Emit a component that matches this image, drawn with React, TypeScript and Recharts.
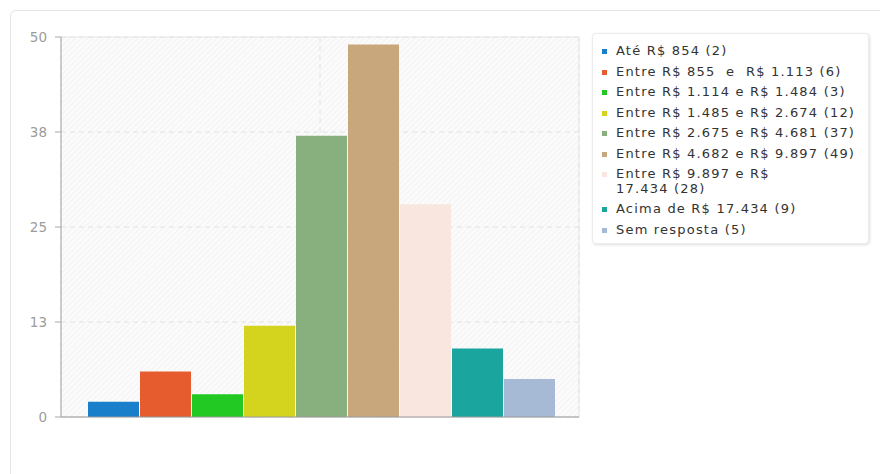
import React from "react";
import { BarChart, Bar, XAxis, YAxis, CartesianGrid, ReferenceArea } from "recharts";

// Faixas de renda familiar e número de respostas
const faixas = [
  "Até R$ 854",
  "Entre R$ 855  e  R$ 1.113",
  "Entre R$ 1.114 e R$ 1.484",
  "Entre R$ 1.485 e R$ 2.674",
  "Entre R$ 2.675 e R$ 4.681",
  "Entre R$ 4.682 e R$ 9.897",
  "Entre R$ 9.897 e R$\n17.434",
  "Acima de R$ 17.434",
  "Sem resposta",
];
const respostas = [2, 6, 3, 12, 37, 49, 28, 9, 5];
const cores = [
  "#1a7fcb",
  "#e65c2e",
  "#22c922",
  "#d4d31e",
  "#88b07e",
  "#c8a77c",
  "#f9e6df",
  "#1aa59e",
  "#a6b9d5",
];
const yTicks = [0, 12.5, 25, 37.5, 50];

const row: Record<string, string | number> = { name: "renda" };
faixas.forEach((_, i) => {
  row[`s${i}`] = respostas[i];
});
const data = [row];

const FONT = "'DejaVu Sans', Verdana, sans-serif";

function Legenda() {
  return (
    <div
      style={{
        position: "absolute",
        left: 592,
        top: 33,
        width: 277,
        height: 211,
        boxSizing: "border-box",
        background: "#fff",
        border: "1px solid #ececec",
        borderRadius: 4,
        boxShadow: "1px 1px 3px rgba(0,0,0,0.12)",
        padding: "10px 0 0 9px",
        fontFamily: FONT,
        fontSize: 13,
        letterSpacing: 1.2,
        color: "#333",
      }}
    >
      {faixas.map((f, i) => (
        <div
          key={f}
          style={{ display: "flex", alignItems: "flex-start", marginBottom: 6, lineHeight: "14.5px" }}
        >
          <span
            style={{
              width: 5,
              height: 5,
              background: cores[i],
              marginTop: 5,
              marginRight: 9,
              flex: "0 0 auto",
            }}
          />
          <span style={{ whiteSpace: "pre", width: 250 }}>{`${f} (${respostas[i]})`}</span>
        </div>
      ))}
    </div>
  );
}

export default function App() {
  return (
    <div
      style={{
        position: "fixed",
        left: 0,
        top: 0,
        width: 880,
        height: 474,
        background: "#fff",
        overflow: "hidden",
      }}
    >
      <div
        style={{
          position: "absolute",
          left: 10,
          top: 10,
          width: 900,
          height: 500,
          border: "1px solid #e4e4e4",
          borderRadius: 6,
        }}
      />
      <div style={{ position: "absolute", left: 0, top: 0 }}>
        <BarChart
          width={600}
          height={474}
          data={data}
          margin={{ top: 37, right: 21, bottom: 56, left: 0 }}
          barCategoryGap={27}
          barGap={1}
        >
          <defs>
            <pattern id="hatch" width="4" height="4" patternUnits="userSpaceOnUse" patternTransform="rotate(45)">
              <rect width="4" height="4" fill="#fbfbfb" />
              <line x1="0" y1="0" x2="0" y2="4" stroke="#f1f1f1" strokeWidth="1.5" />
            </pattern>
          </defs>
          <CartesianGrid fill="url(#hatch)" stroke="#e2e2e2" strokeDasharray="5 4" />
          <ReferenceArea y1={0} y2={50} fill="none" stroke="#e6e6e6" strokeWidth={1} />
          <XAxis
            dataKey="name"
            tick={() => <g />}
            tickLine={false}
            height={1}
            axisLine={{ stroke: "#9a9a9a" }}
          />
          <YAxis
            width={61}
            domain={[0, 50]}
            ticks={yTicks}
            interval={0}
            tickFormatter={(v: number) => String(Math.round(v))}
            tickSize={6}
            tickMargin={8}
            axisLine={{ stroke: "#a8a8a8" }}
            tickLine={{ stroke: "#a8a8a8" }}
            tick={{ fill: "#9c9c9c", fontSize: 13.5, fontFamily: FONT }}
          />
          {faixas.map((f, i) => (
            <Bar key={f} dataKey={`s${i}`} name={f} fill={cores[i]} isAnimationActive={false} />
          ))}
        </BarChart>
      </div>
      <Legenda />
    </div>
  );
}
